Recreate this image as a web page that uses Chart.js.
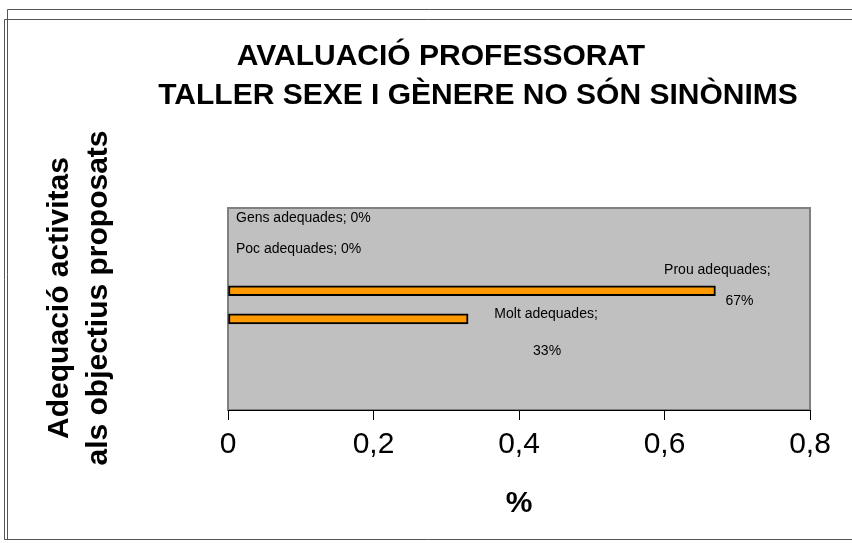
<!DOCTYPE html>
<html>
<head>
<meta charset="utf-8">
<script src="https://cdn.jsdelivr.net/npm/chart.js@4/dist/chart.umd.min.js"></script>
<style>
  html, body { margin: 0; padding: 0; background: #fff; }
  #wrap { width: 852px; height: 543px; position: relative; }
</style>
</head>
<body>
<div id="wrap"><canvas id="chart"></canvas></div>
<script>
// data
const categories = ['Gens adequades', 'Poc adequades', 'Prou adequades', 'Molt adequades'];
const values = [0, 0, 0.67, 0.33];
const valueLabels = ['0%', '0%', '67%', '33%'];
const xTicks = [0, 0.2, 0.4, 0.6, 0.8];

const titleLines = ['AVALUACIÓ PROFESSORAT', 'TALLER SEXE I GÈNERE NO SÓN SINÒNIMS'];
const yTitleLines = ['Adequació activitas', 'als objectius proposats'];
const xTitle = '%';

// where each value label sits relative to the end of its bar (Excel wrapped some of them)
const labelLayout = [
  { lines: 1, dx: 8, dy: -17, align: 'left' },
  { lines: 1, dx: 8, dy: -14, align: 'left' },
  { lines: 2, dx: [2, 24], dy: [-21, 10], align: 'center' },
  { lines: 2, dx: [78, 79], dy: [-5, 32], align: 'center' }
];

const FONT = 'Arial, "Liberation Sans", sans-serif';

const frame = {
  id: 'frame',
  beforeDraw(chart) {
    const { ctx, chartArea: a } = chart;
    ctx.save();
    ctx.fillStyle = '#fff';
    ctx.fillRect(0, 0, chart.width, chart.height);
    // double outer border
    ctx.strokeStyle = '#555';
    ctx.lineWidth = 1;
    ctx.beginPath();
    ctx.moveTo(7.5, 540); ctx.lineTo(7.5, 9.5); ctx.lineTo(852, 9.5);
    ctx.moveTo(852, 19.5); ctx.lineTo(4.5, 19.5); ctx.lineTo(4.5, 539.5); ctx.lineTo(852, 539.5);
    ctx.stroke();
    // plot area
    ctx.fillStyle = '#c0c0c0';
    ctx.fillRect(a.left, a.top, a.right - a.left, a.bottom - a.top);
    ctx.strokeStyle = '#808080';
    ctx.lineWidth = 2;
    ctx.strokeRect(a.left, a.top, a.right - a.left, a.bottom - a.top);
    ctx.restore();
  },
  afterDraw(chart) {
    const { ctx } = chart;
    ctx.save();
    ctx.fillStyle = '#000';
    // title
    ctx.font = 'bold 30px ' + FONT;
    ctx.textAlign = 'center';
    ctx.textBaseline = 'middle';
    ctx.fillText(titleLines[0], 441, 57);
    ctx.fillText(titleLines[1], 478, 96);
    // y axis title
    ctx.save();
    ctx.translate(60, 298);
    ctx.rotate(-Math.PI / 2);
    ctx.fillText(yTitleLines[0], 0, 0);
    ctx.fillText(yTitleLines[1], 0, 39);
    ctx.restore();
    // x axis title
    ctx.fillText(xTitle, 519, 504);
    // value labels
    ctx.font = '14px ' + FONT;
    const meta = chart.getDatasetMeta(0);
    meta.data.forEach((bar, i) => {
      const l = labelLayout[i];
      ctx.textAlign = l.align;
      if (l.lines === 1) {
        ctx.fillText(categories[i] + '; ' + valueLabels[i], bar.x + l.dx, bar.y + l.dy);
      } else {
        ctx.fillText(categories[i] + ';', bar.x + l.dx[0], bar.y + l.dy[0]);
        ctx.fillText(valueLabels[i], bar.x + l.dx[1], bar.y + l.dy[1]);
      }
    });
    ctx.restore();
  }
};

new Chart(document.getElementById('chart'), {
  type: 'bar',
  data: {
    datasets: [{
      data: values.map((v, i) => ({ x: v, y: i })),
      backgroundColor: '#ff9900',
      borderColor: '#000',
      borderWidth: 2,
      borderSkipped: false,
      barThickness: 10
    }]
  },
  options: {
    indexAxis: 'y',
    responsive: true,
    maintainAspectRatio: false,
    animation: false,
    layout: { padding: { left: 228, right: 42, top: 208, bottom: 0 } },
    plugins: { legend: { display: false }, tooltip: { enabled: false } },
    scales: {
      x: {
        type: 'linear',
        min: 0,
        max: 0.8,
        afterBuildTicks: (s) => { s.ticks = xTicks.map(v => ({ value: v })); },
        afterFit: (s) => { s.height = 133; },
        border: { color: '#000', width: 1 },
        grid: { drawOnChartArea: false, drawTicks: true, tickLength: 10, color: '#000' },
        ticks: {
          padding: 7,
          color: '#000',
          font: { family: FONT, size: 30 },
          callback: (v) => String(v).replace('.', ',')
        }
      },
      y: {
        type: 'linear',
        reverse: true,
        min: -0.5,
        max: 5.8,
        display: false
      }
    }
  },
  plugins: [frame]
});
</script>
</body>
</html>
